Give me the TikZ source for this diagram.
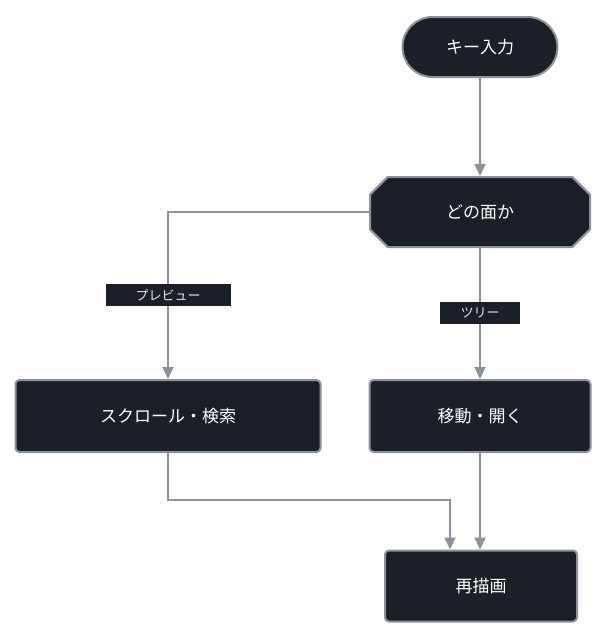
\documentclass[tikz,border=0pt]{standalone}
\usepackage{fontspec}
\setmainfont{Noto Sans CJK JP}
\usetikzlibrary{shapes.misc,arrows.meta}
\definecolor{nodefill}{HTML}{1B1F27}
\definecolor{edge}{HTML}{8C929B}
\begin{document}
\begin{tikzpicture}[x=1pt,y=-1pt,
  box/.style={draw=edge,line width=2pt,fill=nodefill,text=white,font=\fontsize{17}{20}\selectfont,inner sep=0pt},
  rbox/.style={box,rounded corners=4pt},
  lab/.style={fill=nodefill,text=white!80!gray,font=\fontsize{13}{15}\selectfont,inner sep=3pt,minimum height=22pt},
  ar/.style={draw=edge,line width=2pt,-{Triangle[length=12pt,width=11pt]}}]
\useasboundingbox (0,0) rectangle (609,640);
\node[box,rounded rectangle,minimum width=155pt,minimum height=60pt] (start) at (480,47) {キー入力};
\node[box,chamfered rectangle,chamfered rectangle xsep=10pt,chamfered rectangle ysep=10pt,minimum width=220pt,minimum height=70pt] (dec) at (480,212) {どの面か};
\node[rbox,minimum width=305pt,minimum height=72pt] (left) at (168,416) {スクロール・検索};
\node[rbox,minimum width=221pt,minimum height=72pt] (right) at (480,416) {移動・開く};
\node[rbox,minimum width=192pt,minimum height=71pt] (redraw) at (481,586) {再描画};
\coordinate (c1) at (168,212);
\coordinate (c2) at (168,500);
\coordinate (c3) at (450,500);
\draw[ar] (start) -- (dec);
\draw[ar] (dec.west) -- (c1) -- (left.north);
\draw[ar] (dec.south) -- (right.north);
\draw[ar] (left.south) -- (c2) -- (c3) -- (c3 |- redraw.north);
\draw[ar] (right.south) -- (right.south |- redraw.north);
\node[lab,minimum width=125pt] (l1) at (168,295) {プレビュー};
\node[lab,minimum width=80pt] (l2) at (480,313) {ツリー};
\end{tikzpicture}
\end{document}
